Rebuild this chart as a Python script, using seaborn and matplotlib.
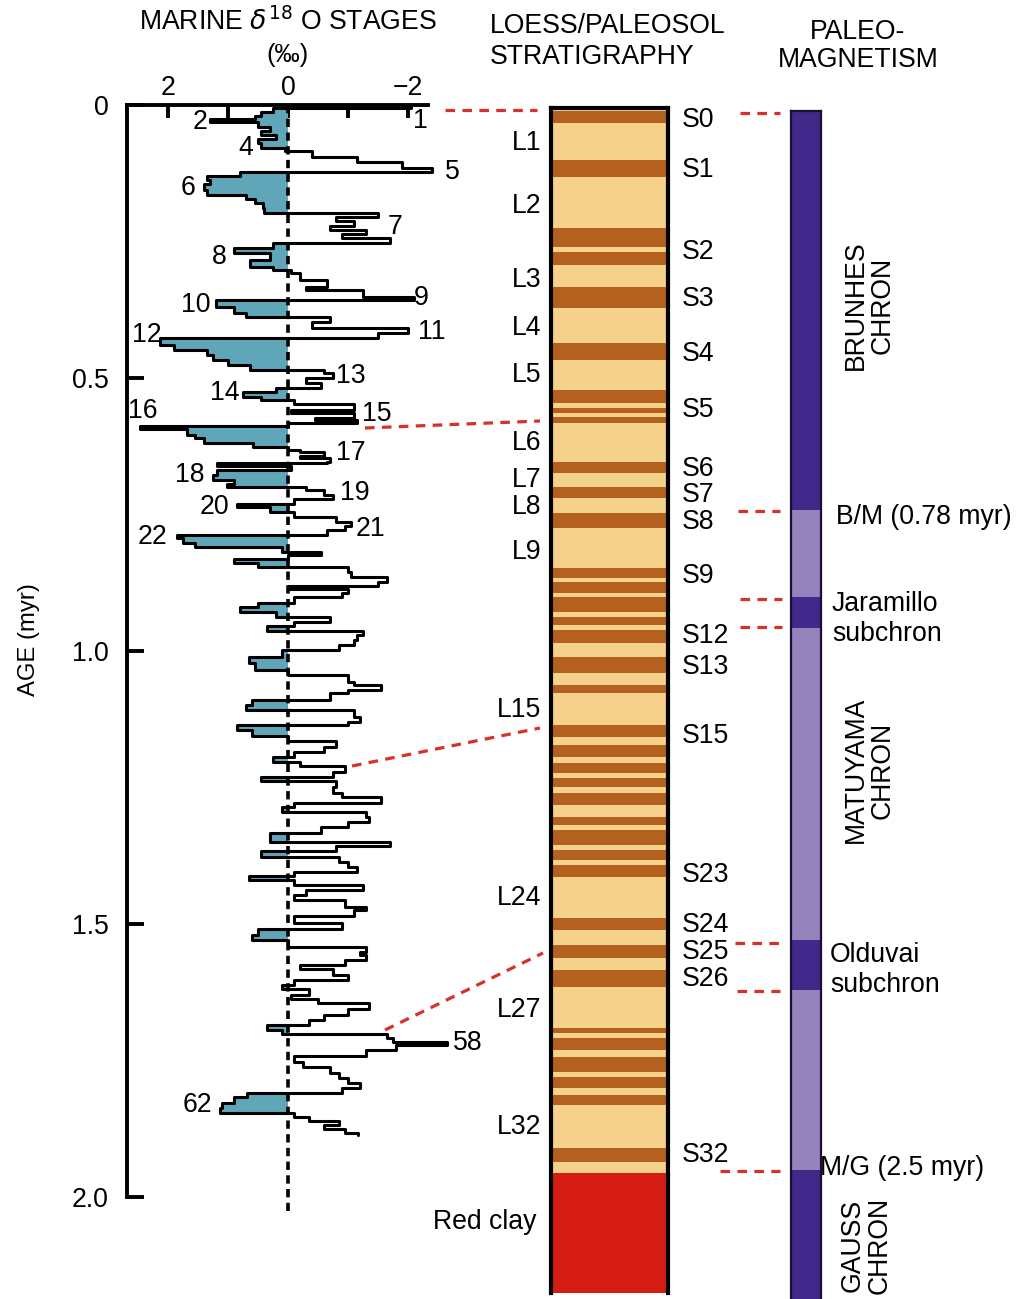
import numpy as np
import matplotlib
matplotlib.use("Agg")
import matplotlib.pyplot as plt
import seaborn as sns

# ---------------- data ----------------
# marine d18O record (age in myr, d18O anomaly in per mil; value holds until next age)
age = [0.000, 0.006, 0.012, 0.020, 0.025, 0.032, 0.040, 0.048, 0.055, 0.062, 0.070, 0.078, 0.085, 0.095,
       0.105, 0.115, 0.123, 0.130, 0.138, 0.145, 0.155, 0.165, 0.172, 0.180, 0.188, 0.197, 0.205, 0.213,
       0.221, 0.229, 0.237, 0.244, 0.253, 0.262, 0.271, 0.284, 0.296, 0.302, 0.308, 0.320, 0.333, 0.339,
       0.352, 0.357, 0.370, 0.381, 0.388, 0.397, 0.408, 0.418, 0.427, 0.440, 0.449, 0.458, 0.467, 0.476,
       0.485, 0.491, 0.500, 0.509, 0.518, 0.525, 0.534, 0.540, 0.547, 0.559, 0.565, 0.573, 0.577, 0.583,
       0.588, 0.594, 0.604, 0.610, 0.619, 0.627, 0.632, 0.636, 0.643, 0.647, 0.653, 0.656, 0.662, 0.668,
       0.678, 0.687, 0.694, 0.700, 0.706, 0.714, 0.722, 0.730, 0.737, 0.745, 0.754, 0.763, 0.771, 0.778,
       0.787, 0.793, 0.802, 0.810, 0.818, 0.824, 0.832, 0.838, 0.846, 0.855, 0.865, 0.873, 0.881, 0.887,
       0.894, 0.901, 0.912, 0.919, 0.928, 0.937, 0.946, 0.954, 0.963, 0.971, 0.980, 0.989, 0.998, 1.011,
       1.022, 1.035, 1.044, 1.057, 1.062, 1.071, 1.077, 1.090, 1.099, 1.108, 1.121, 1.130, 1.136, 1.145,
       1.156, 1.165, 1.176, 1.185, 1.194, 1.203, 1.211, 1.222, 1.231, 1.238, 1.249, 1.260, 1.268, 1.278,
       1.286, 1.295, 1.304, 1.313, 1.322, 1.333, 1.350, 1.357, 1.366, 1.377, 1.386, 1.396, 1.404, 1.412,
       1.419, 1.429, 1.438, 1.447, 1.456, 1.468, 1.475, 1.486, 1.498, 1.509, 1.520, 1.529, 1.542, 1.551,
       1.557, 1.566, 1.575, 1.583, 1.593, 1.603, 1.612, 1.619, 1.630, 1.637, 1.645, 1.656, 1.667, 1.676,
       1.685, 1.694, 1.701, 1.709, 1.716, 1.722, 1.731, 1.742, 1.753, 1.762, 1.773, 1.782, 1.791, 1.800,
       1.809, 1.817, 1.827, 1.837, 1.846, 1.853, 1.860, 1.868, 1.876, 1.882, 1.886]
d18o = [-2.05, 0.25, 0.45, 0.55, 1.30, 0.50, 0.30, 0.45, 0.20, 0.50, 0.45, 0.05, -0.40, -1.15,
        -1.90, -2.40, 0.80, 1.35, 1.30, 1.40, 1.35, 0.70, 0.55, 0.42, 0.40, -1.50, -0.80, -1.10,
        -0.70, -1.30, -0.90, -1.70, 0.25, 0.90, 0.30, 0.63, 0.25, -0.05, -0.20, -0.65, -0.30, -1.25,
        -2.10, 1.20, 0.90, 0.70, -0.70, -0.40, -2.00, -1.50, 2.13, 1.90, 1.35, 1.25, 1.00, 0.63,
        -0.60, -0.75, -0.30, -0.55, 0.20, 0.75, 0.45, -0.10, -1.10, -0.05, -1.10, -0.45, -1.15, 0.00,
        2.47, 1.68, 1.55, 1.40, 0.58, 0.00, -0.20, -0.60, -0.20, -0.70, -0.65, 1.18, -0.05, 1.18,
        1.25, 0.90, 1.02, -0.30, -0.60, -0.75, -0.10, 0.85, 0.30, -0.10, -0.80, -1.05, -0.95, -0.65,
        1.85, 1.75, 1.55, 0.10, -0.55, 0.00, 0.90, 0.50, -1.00, -1.05, -1.65, -1.50, 0.00, -1.00,
        -0.90, -0.10, 0.50, 0.80, 0.20, -0.70, -0.10, 0.35, -1.25, -1.15, -1.10, -0.85, 0.10, 0.65,
        0.55, 0.00, -1.00, -1.10, -1.55, -1.00, -0.70, 0.60, 0.70, -1.10, -1.20, -1.00, 0.85, 0.60,
        0.00, -0.80, -0.60, -0.10, 0.25, -0.20, -0.95, -0.75, 0.45, -0.80, -0.75, -0.90, -1.55, -0.10,
        0.10, -1.30, -1.35, -1.00, -0.55, 0.30, -1.70, -0.80, 0.45, -0.85, -1.00, -1.15, -0.10, 0.65,
        -0.10, -1.25, -0.30, -0.10, -0.95, -1.30, -1.10, -0.10, -0.90, 0.50, 0.60, 0.00, -1.30, -1.20,
        -1.30, -0.95, -0.20, -0.75, -1.00, -0.10, 0.10, -0.35, -0.05, -0.50, -1.35, -1.00, -0.60, -0.35,
        0.35, 0.10, -1.65, -1.75, -2.65, -1.80, -1.30, -0.10, -0.25, -0.70, -0.85, -1.00, -1.20, -0.90,
        0.68, 0.90, 1.10, 1.13, -0.10, -0.35, -0.85, -0.60, -0.95, -1.17, -1.17]

# stage labels (number, d18O position, age position)
stage_lbl = ["1", "2", "4", "5", "6", "7", "8", "9", "10", "11", "12", "13", "14", "15", "16",
             "17", "18", "19", "20", "21", "22", "58", "62"]
stage_x = [-2.2, 1.47, 0.70, -2.73, 1.67, -1.78, 1.15, -2.22, 1.53, -2.40, 2.35, -1.05, 1.05,
           -1.47, 2.42, -1.05, 1.63, -1.12, 1.22, -1.37, 2.25, -3.0, 1.5]
stage_y = [0.029, 0.031, 0.079, 0.123, 0.152, 0.223, 0.278, 0.353, 0.366, 0.416, 0.421, 0.496,
           0.527, 0.566, 0.560, 0.637, 0.678, 0.711, 0.736, 0.777, 0.791, 1.718, 1.832]

# loess / paleosol column (depth units from column top, 1 unit = 1 px)
soil_top = [3, 52, 120, 144, 179, 235, 282, 300, 309, 354, 379, 405, 460, 474, 489, 509, 522, 549,
            577, 617, 637, 655, 670, 685, 709, 722, 742, 757, 810, 837, 862, 920, 930, 949, 969,
            987, 1040]
soil_bot = [15, 69, 139, 157, 200, 252, 295, 305, 315, 365, 390, 420, 470, 485, 504, 517, 535, 565,
            585, 629, 649, 665, 679, 697, 717, 737, 752, 769, 822, 850, 879, 925, 942, 964, 980,
            997, 1054]
redclay = (1065, 1185)
L_names = ["L1", "L2", "L3", "L4", "L5", "L6", "L7", "L8", "L9", "L15", "L24", "L27", "L32"]
L_depth = [35, 98, 172, 220, 267, 335, 372, 399, 444, 602, 790, 902, 1019]
S_names = ["S0", "S1", "S2", "S3", "S4", "S5", "S6", "S7", "S8", "S9", "S12", "S13", "S15", "S23",
           "S24", "S25", "S26", "S32"]
S_depth = [12, 62, 144, 191, 246, 302, 361, 387, 414, 468, 528, 559, 628, 767, 817, 844, 871, 1047]

# paleomagnetic polarity (same depth units)
pm_top = [3, 402, 489, 520, 832, 882, 1062]
pm_bot = [402, 489, 520, 832, 882, 1062, 1191]
pm_pol = ["N", "R", "N", "R", "N", "R", "N"]

# ---------------- style ----------------
sns.set_theme(style="white")
plt.rcParams['font.family'] = ['Liberation Sans', 'DejaVu Sans']
plt.rcParams['mathtext.fontset'] = 'dejavusans'
plt.rcParams['text.color'] = 'black'
plt.rcParams['axes.labelcolor'] = 'black'
plt.rcParams['xtick.color'] = 'black'
plt.rcParams['ytick.color'] = 'black'

W, H = 1025, 1299
fig = plt.figure(figsize=(W / 100, H / 100), dpi=100)
fig.patch.set_facecolor("white")


def rect(x0, y0, x1, y1):
    return [x0 / W, 1 - y1 / H, (x1 - x0) / W, (y1 - y0) / H]


FS = 19.2
teal = "#5fa6b9"
red = "#d8302a"

# ---------------- d18O panel ----------------
ax = fig.add_axes(rect(127, 105, 428, 1197))
ax.set_facecolor("none")
a = np.asarray(age)
v = np.asarray(d18o)
ys = np.repeat(a, 2)[1:]
xs = np.repeat(v, 2)[:-1]
ax.fill_betweenx(a, 0, np.clip(v, 0, None), step="post", color=teal, lw=0, zorder=1)
sns.lineplot(x=xs, y=ys, sort=False, estimator=None, color="black", lw=2.2, ax=ax, zorder=3)
ax.lines[-1].set_clip_on(False)
ax.plot([0, 0], [0, 2.025], ls=(0, (2.3, 1.5)), color="black", lw=2.6, clip_on=False, zorder=2)
for s, x, y in zip(stage_lbl, stage_x, stage_y):
    ax.text(x, y, s, ha="center", va="center", fontsize=FS, clip_on=False, color="black")

ax.set_xlim(2.68, -2.33)
ax.set_ylim(2.0, 0)
ax.set_xlabel("")
ax.set_ylabel("")
for sp in ["right", "bottom"]:
    ax.spines[sp].set_visible(False)
for sp in ["left", "top"]:
    ax.spines[sp].set_linewidth(2.8)
    ax.spines[sp].set_color("black")
ax.xaxis.tick_top()
ax.set_xticks([2, 1, 0, -1, -2])
ax.set_xticklabels(["2", "", "0", "", "\u22122"])
ax.tick_params(axis="x", which="both", direction="in", length=9, width=2.8, pad=3,
               labelsize=FS, top=True, bottom=False, colors="black")
ax.set_yticks([0, 0.5, 1.0, 1.5, 2.0])
ax.set_yticklabels(["0", "0.5", "1.0", "1.5", "2.0"])
ax.tick_params(axis="y", direction="in", length=12, width=2.8, pad=13, labelsize=FS,
               left=True, colors="black")

# ---------------- loess / paleosol column ----------------
ac = fig.add_axes(rect(551, 108, 668, 1293))
ac.set_facecolor("#f6d18c")
ac.bar([0.5] * len(soil_top), np.subtract(soil_bot, soil_top), bottom=soil_top, width=1.0,
       color="#b4601f", lw=0)
ac.bar(0.5, redclay[1] - redclay[0], bottom=redclay[0], width=1.0, color="#d51d13", lw=0)
ac.set_xlim(0, 1)
ac.set_ylim(1185, 0)
ac.set_xticks([])
ac.set_yticks([])
for sp in ac.spines.values():
    sp.set_linewidth(3)
    sp.set_color("black")
ac.spines["bottom"].set_visible(False)
for n, d in zip(L_names, L_depth):
    ac.text(-0.08, d, n, ha="right", va="center", fontsize=FS, transform=ac.get_yaxis_transform())
for n, d in zip(S_names, S_depth):
    ac.text(1.12, d, n, ha="left", va="center", fontsize=FS, transform=ac.get_yaxis_transform())
ac.text(-0.12, 1114, "Red clay", ha="right", va="center", fontsize=FS,
        transform=ac.get_yaxis_transform())

# ---------------- paleomagnetism column ----------------
ap = fig.add_axes(rect(791, 111, 821, 1299))
ap.set_facecolor("white")
pcol = {"N": "#3f298a", "R": "#9583bd"}
ap.bar([0.5] * len(pm_top), np.subtract(pm_bot, pm_top), bottom=pm_top, width=1.0,
       color=[pcol[p] for p in pm_pol], lw=0)
ap.set_xlim(0, 1)
ap.set_ylim(1191, 3)
ap.set_xticks([])
ap.set_yticks([])
for sp in ap.spines.values():
    sp.set_linewidth(1.6)
    sp.set_color("#1a1030")
ap.spines["bottom"].set_visible(False)

# ---------------- overlay: headers, annotations, correlation lines ----------------
ov = fig.add_axes([0, 0, 1, 1])
ov.set_xlim(0, W)
ov.set_ylim(H, 0)
ov.axis("off")
ov.patch.set_alpha(0)

ov.text(288, 22, "MARINE $\\delta^{18}$ O STAGES", ha="center", va="center", fontsize=FS)
ov.text(288, 55, "(\u2030)", ha="center", va="center", fontsize=FS - 1)
ov.text(490, 26, "LOESS/PALEOSOL", ha="left", va="center", fontsize=FS)
ov.text(490, 57, "STRATIGRAPHY", ha="left", va="center", fontsize=FS)
ov.text(858, 32, "PALEO-", ha="center", va="center", fontsize=FS)
ov.text(858, 60, "MAGNETISM", ha="center", va="center", fontsize=FS)
ov.text(29, 640, "AGE (myr)", ha="center", va="center", rotation=90, fontsize=FS - 2)

ov.text(869, 305, "BRUNHES\nCHRON", ha="center", va="center", rotation=90, fontsize=FS,
        multialignment="center", linespacing=1.05)
ov.text(869, 770, "MATUYAMA\nCHRON", ha="center", va="center", rotation=90, fontsize=FS,
        multialignment="center", linespacing=1.05)
ov.text(866, 1245, "GAUSS\nCHRON", ha="center", va="center", rotation=90, fontsize=FS,
        multialignment="center", linespacing=1.05)
ov.text(836, 517, "B/M (0.78 myr)", ha="left", va="center", fontsize=FS)
ov.text(832, 604, "Jaramillo", ha="left", va="center", fontsize=FS)
ov.text(832, 634, "subchron", ha="left", va="center", fontsize=FS)
ov.text(830, 955, "Olduvai", ha="left", va="center", fontsize=FS)
ov.text(830, 985, "subchron", ha="left", va="center", fontsize=FS)
ov.text(820, 1168, "M/G (2.5 myr)", ha="left", va="center", fontsize=FS)

links = [((445, 110), (537, 110)), ((365, 428), (540, 421)), ((352, 766), (540, 728)),
         ((385, 1030), (543, 953)), ((740, 113), (780, 113)), ((738, 511), (780, 511)),
         ((740, 599), (782, 599)), ((740, 627), (782, 627)), ((735, 943), (780, 943)),
         ((737, 991), (780, 991)), ((720, 1171), (780, 1171))]
for (x0, y0), (x1, y1) in links:
    ov.plot([x0, x1], [y0, y1], color=red, lw=2.3, ls=(0, (3.0, 2.3)), solid_capstyle="butt",
            dash_capstyle="butt")

fig.savefig("out.png", dpi=100, facecolor="white")
